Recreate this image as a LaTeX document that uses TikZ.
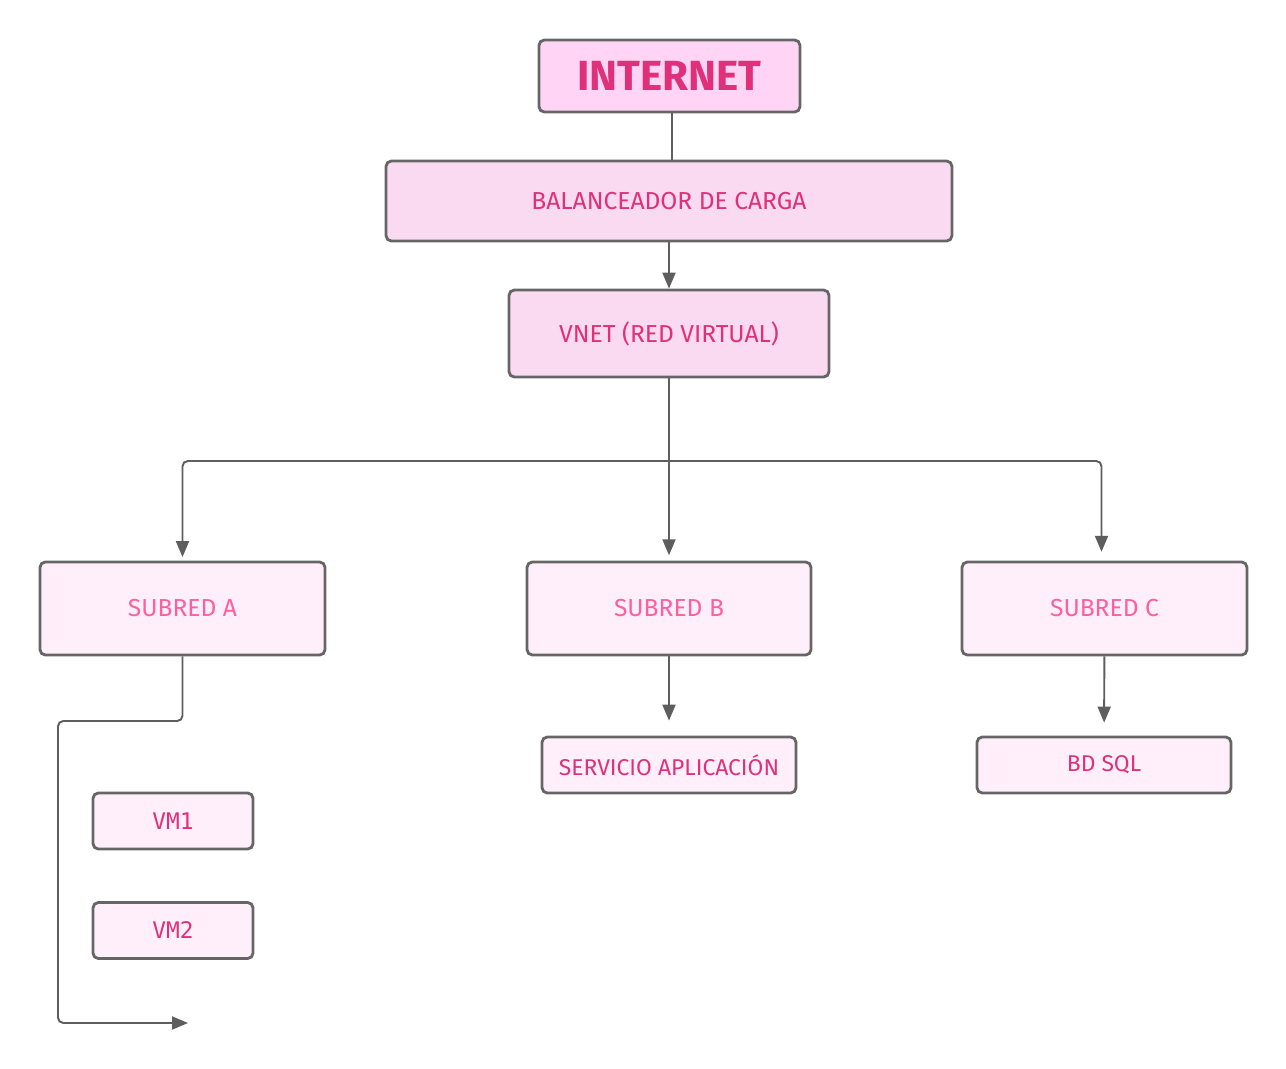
\documentclass[tikz,border=0pt]{standalone}
\usepackage{fontspec}
\setmainfont{Fira Sans}
\newfontfamily\vmfont{DejaVu Sans Mono}
\usetikzlibrary{arrows.meta}

\definecolor{edgegray}{HTML}{5E5E5E}
\definecolor{boxgray}{HTML}{666666}
\definecolor{inkpink}{HTML}{E0307A}
\definecolor{softpink}{HTML}{FF5F9E}
\definecolor{fillnet}{HTML}{FFD4F4}
\definecolor{fillmid}{HTML}{F9DAF0}
\definecolor{filllow}{HTML}{FFEFFA}

\tikzstyle{box}    = [rectangle, draw=boxgray, line width=1.6pt, rounded corners=3pt, text centered, inner sep=0pt]
\tikzstyle{net}    = [box, fill=fillnet, text=inkpink, font=\bfseries\fontsize{24}{28}\selectfont]
\tikzstyle{core}   = [box, fill=fillmid, text=inkpink, font=\fontsize{14}{17}\selectfont]
\tikzstyle{subnet} = [box, fill=filllow, text=softpink, font=\fontsize{14}{17}\selectfont]
\tikzstyle{res}    = [box, fill=filllow, text=inkpink, font=\fontsize{13}{16}\selectfont]
\tikzstyle{vm}     = [box, fill=filllow, text=inkpink, font=\vmfont\fontsize{13}{16}\selectfont]
\tikzstyle{line}   = [draw=edgegray, line width=1.1pt, rounded corners=3pt]
\tikzstyle{arrow}  = [line, -{Triangle[length=3.2mm, width=2.6mm]}]

\begin{document}
\begin{tikzpicture}[x=0.02cm, y=-0.02cm]
\useasboundingbox (0,0) rectangle (1286,1069);

\node (internet) [net,    minimum width=5.22cm, minimum height=1.44cm] at (669.5,76)  {INTERNET};
\node (balancer) [core,   minimum width=11.32cm, minimum height=1.6cm] at (669,201)   {BALANCEADOR DE CARGA};
\node (vnet)     [core,   minimum width=6.4cm,  minimum height=1.74cm] at (669,333.5) {VNET (RED VIRTUAL)};
\node (subA)     [subnet, minimum width=5.7cm,  minimum height=1.86cm] at (182.5,608.5)  {SUBRED A};
\node (subB)     [subnet, minimum width=5.68cm, minimum height=1.86cm] at (669,608.5)    {SUBRED B};
\node (subC)     [subnet, minimum width=5.7cm,  minimum height=1.86cm] at (1104.5,608.5) {SUBRED C};
\node (appsvc)   [res,    minimum width=5.08cm, minimum height=1.12cm] at (669,765)   {SERVICIO APLICACIÓN};
\node (sqldb)    [res,    minimum width=5.08cm, minimum height=1.12cm] at (1104,765)  {BD SQL};
\node (vm1)      [vm,     minimum width=3.2cm,  minimum height=1.12cm] at (173,821)   {VM1};
\node (vm2)      [vm,     minimum width=3.2cm,  minimum height=1.12cm] at (173,930.5) {VM2};

\coordinate (split)   at (669,461);
\coordinate (bendA)   at (182.5,721);
\coordinate (railA)   at (58,721);
\coordinate (railB)   at (58,1023);
\coordinate (loopend) at (188,1023);

\draw [line]  ([xshift=0.05cm]internet.south) -- ([xshift=0.05cm]internet.south |- balancer.north);
\draw [arrow] (balancer) -- (vnet);
\draw [line]  (vnet) -- (split);
\draw [arrow, shorten >=2pt] (split) -| (subA);
\draw [arrow, shorten >=3pt] (split) -- (subB);
\draw [arrow, shorten >=5pt] (split) -| ([xshift=-0.06cm]subC.north);
\draw [arrow, shorten >=0.3cm] (subB) -- (appsvc);
\draw [arrow, shorten >=0.26cm] (subC) -- (sqldb);
\draw [arrow] (subA.south) -- (bendA) -- (railA) -- (railB) -- (loopend);
\end{tikzpicture}
\end{document}
